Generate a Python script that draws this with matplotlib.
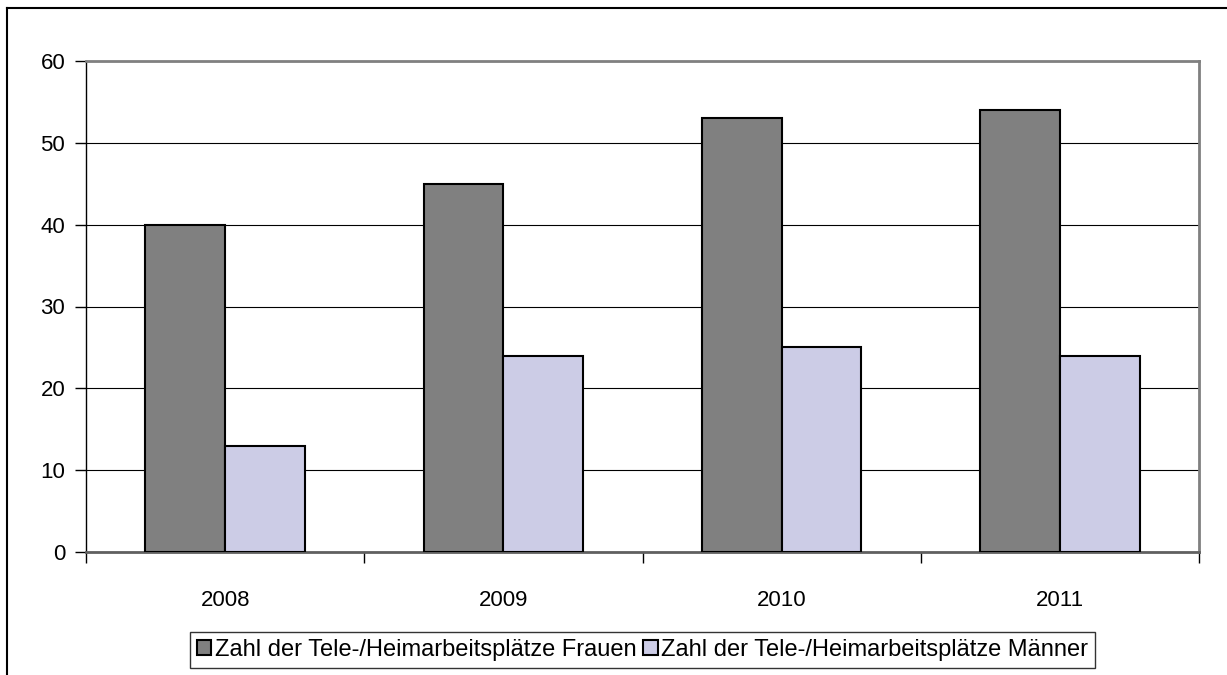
import matplotlib.pyplot as plt
import numpy as np
from matplotlib.lines import Line2D

plt.rcParams['font.family'] = ['Liberation Sans', 'DejaVu Sans']

# data
years = ['2008', '2009', '2010', '2011']
frauen = [40, 45, 53, 54]
maenner = [13, 24, 25, 24]
labels = ['Zahl der Tele-/Heimarbeitsplätze Frauen',
          'Zahl der Tele-/Heimarbeitsplätze Männer']

W, H = 1227, 675
fig = plt.figure(figsize=(W / 100, H / 100), dpi=100)
ax = fig.add_axes([86 / W, 1 - 552 / H, (1199 - 86) / W, (552 - 61) / H])

x = np.arange(len(years))
bw = 0.287
ax.bar(x - bw / 2, frauen, bw, color='#808080', edgecolor='black', linewidth=1.5,
       label=labels[0], zorder=3)
ax.bar(x + bw / 2, maenner, bw, color='#CCCCE6', edgecolor='black', linewidth=1.5,
       label=labels[1], zorder=3)

ax.set_xlim(-0.5, len(years) - 0.5)
ax.set_ylim(0, 60)
ax.set_yticks(range(0, 61, 10))
ax.yaxis.grid(True, color='black', linewidth=0.8, zorder=0)

# category labels centred, ticks at category boundaries
ax.set_xticks(x)
ax.set_xticklabels(years)
ax.tick_params(axis='x', length=0, pad=27, labelsize=16)
ax.set_xticks(np.arange(-0.5, len(years)), minor=True)
ax.tick_params(axis='x', which='minor', length=8, width=1, color='black', direction='out')
ax.tick_params(axis='y', length=8, width=1, color='black', direction='out', pad=7,
               labelsize=16)

for side in ['top', 'right']:
    ax.spines[side].set_color('#808080')
    ax.spines[side].set_linewidth(2)
ax.spines['left'].set_color('black')
ax.spines['left'].set_linewidth(1)
ax.spines['bottom'].set_color('#606060')
ax.spines['bottom'].set_linewidth(2)

leg = ax.legend(loc='center', bbox_to_anchor=(0.5, -0.2), ncol=2, frameon=True,
                fancybox=False, edgecolor='black', fontsize=17, handlelength=0.6,
                handleheight=0.6, handletextpad=0.15, columnspacing=0.3,
                borderpad=0.3, borderaxespad=0)
leg.get_frame().set_linewidth(1)

# outer chart border (top and left only visible)
fig.add_artist(Line2D([7 / W, 7 / W], [0, 1 - 8 / H], color='black', linewidth=1.5,
                      transform=fig.transFigure))
fig.add_artist(Line2D([7 / W, 1], [1 - 8 / H, 1 - 8 / H], color='black', linewidth=1.5,
                      transform=fig.transFigure))

fig.savefig('out.png', dpi=100)
